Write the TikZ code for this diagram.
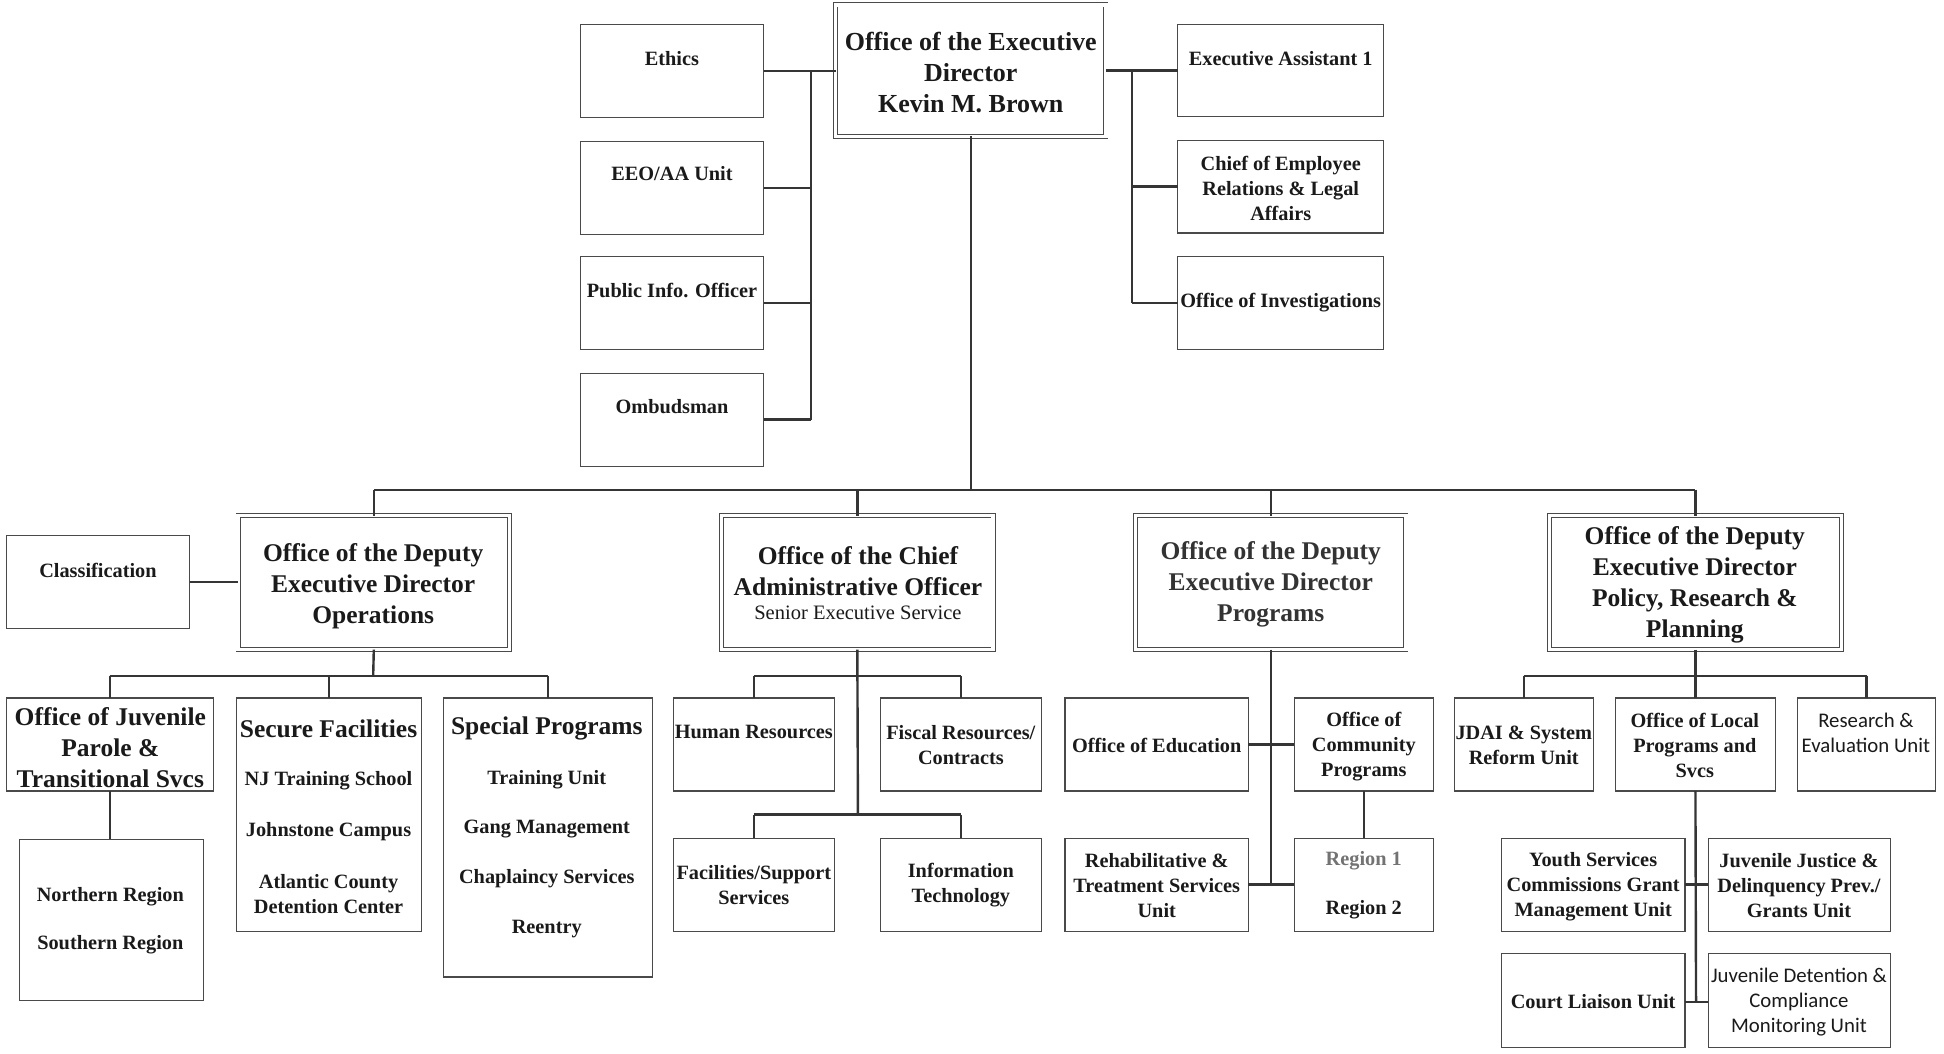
\documentclass[tikz,border=0pt]{standalone}
\usepackage{fontspec}
\setmainfont{Liberation Serif}
\newfontfamily\calfont{Carlito}
\usetikzlibrary{fit}
\definecolor{ln}{HTML}{353535}
\definecolor{bx}{HTML}{4A4A4A}
\definecolor{tx}{HTML}{1A1A1A}
\tikzset{
  box/.style={draw=bx, line width=1.2pt, inner sep=0pt, outer sep=0pt},
  dbox/.style={draw=bx, double=white, line width=0.9pt, double distance=3.2pt, inner sep=0pt, outer sep=0pt},
  conn/.style={draw=ln, line width=2.4pt},
  hugetxt/.style={text=tx, align=center, font=\fontsize{26}{31}\selectfont\bfseries},
  bigtxt/.style={text=tx, align=center, font=\fontsize{25.5}{31}\selectfont\bfseries},
  smtxt/.style={text=tx, align=center, font=\fontsize{20.3}{24.8}\selectfont\bfseries},
  subtxt/.style={text=tx, align=center, font=\fontsize{20.5}{24}\selectfont},
  caltxt/.style={text=tx, align=center, font=\calfont\fontsize{20.8}{24.8}\selectfont},
}
\begin{document}
\begin{tikzpicture}[x=1.2398pt, y=-1.2398pt]
\useasboundingbox[fill=white] (0,0) rectangle (1568,850);

% ---------- boxes ----------
\node[dbox, fit={(674,4) (892,110)}] (exec) {};
\node[box, fit={(468,20) (616,95)}] (ethics) {};
\node[box, fit={(468,114) (616,189)}] (eeo) {};
\node[box, fit={(468,207) (616,282)}] (pio) {};
\node[box, fit={(468,301) (616,376)}] (omb) {};
\node[box, fit={(950,20) (1116,94)}] (ea) {};
\node[box, fit={(950,113) (1116,188)}] (chief) {};
\node[box, fit={(950,207) (1116,282)}] (inv) {};

\node[dbox, fit={(192,416) (411,524)}] (ops) {};
\node[dbox, fit={(582,416) (801,524)}] (cao) {};
\node[dbox, fit={(916,416) (1134,524)}] (prog) {};
\node[dbox, fit={(1250,416) (1485,524)}] (pol) {};
\node[box, fit={(5,432) (153,507)}] (class) {};

\node[box, fit={(5,563) (172,638)}] (jp) {};
\node[box, fit={(191,563) (340,751)}] (sf) {};
\node[box, fit={(358,563) (526,788)}] (sp) {};
\node[box, fit={(16,677) (164,807)}] (nsr) {};

\node[box, fit={(543,563) (673,638)}] (hr) {};
\node[box, fit={(710,563) (840,638)}] (fis) {};
\node[box, fit={(543,676) (673,751)}] (fac) {};
\node[box, fit={(710,676) (840,751)}] (it) {};

\node[box, fit={(859,563) (1007,638)}] (edu) {};
\node[box, fit={(1044,563) (1156,638)}] (comm) {};
\node[box, fit={(859,676) (1007,751)}] (rehab) {};
\node[box, fit={(1044,676) (1156,751)}] (reg) {};

\node[box, fit={(1173,563) (1285,638)}] (jdai) {};
\node[box, fit={(1303,563) (1432,638)}] (loc) {};
\node[box, fit={(1450,563) (1561,638)}] (res) {};
\node[box, fit={(1211,676) (1359,751)}] (ysc) {};
\node[box, fit={(1378,676) (1525,751)}] (jj) {};
\node[box, fit={(1211,769) (1359,845)}] (cl) {};
\node[box, fit={(1378,769) (1525,845)}] (jd) {};

% ---------- texts ----------
\node[hugetxt] (t-exec) at (783,58.5) {Office of the Executive\\Director\\Kevin M. Brown};
\node[smtxt] (t-ethics) at (542,47) {Ethics};
\node[smtxt] (t-eeo) at (542,140) {EEO/AA Unit};
\node[smtxt] (t-pio) at (542,234) {Public Info. Officer};
\node[smtxt] (t-omb) at (542,328) {Ombudsman};
\node[smtxt] (t-ea) at (1033,47) {Executive Assistant 1};
\node[smtxt] (t-chief) at (1033,152) {Chief of Employee\\Relations \& Legal\\Affairs};
\node[smtxt] (t-inv) at (1033,244) {Office of Investigations};

\node[smtxt] (t-class) at (79,460) {Classification};
\node[bigtxt] (t-ops) at (301,472.5) {Office of the Deputy\\Executive Director\\Operations};
\node[bigtxt] (t-cao) at (692,460.5) {Office of the Chief\\Administrative Officer};
\node[subtxt] (t-cao2) at (692,494) {Senior Executive Service};
\node[bigtxt, text=black!80] (t-prog) at (1025,471.5) {Office of the Deputy\\Executive Director\\Programs};
\node[bigtxt] (t-pol) at (1367,472) {Office of the Deputy\\Executive Director\\Policy, Research \&\\Planning};

\node[bigtxt] (t-jp) at (89,603) {Office of Juvenile\\Parole \&\\Transitional Svcs};
\node[bigtxt] (t-sf) at (265,587.5) {Secure Facilities};
\node[smtxt] (t-sf1) at (265,630) {NJ Training School};
\node[smtxt] (t-sf2) at (265,671) {Johnstone Campus};
\node[smtxt] (t-sf3) at (265,721) {Atlantic County\\Detention Center};
\node[bigtxt] (t-sp) at (441,587.5) {Special Programs};
\node[smtxt] (t-sp1) at (441,629) {Training Unit};
\node[smtxt] (t-sp2) at (441,669) {Gang Management};
\node[smtxt] (t-sp3) at (441,709) {Chaplaincy Services};
\node[smtxt] (t-sp4) at (441,749) {Reentry};
\node[smtxt] (t-nr) at (89,723) {Northern Region};
\node[smtxt] (t-sr) at (89,762) {Southern Region};

\node[smtxt] (t-hr) at (608,590.5) {Human Resources};
\node[smtxt] (t-fis) at (775,601) {Fiscal Resources/\\Contracts};
\node[smtxt] (t-fac) at (608,714) {Facilities/Support\\Services};
\node[smtxt] (t-it) at (775,714) {Information\\Technology};

\node[smtxt] (t-edu) at (933,601) {Office of Education};
\node[smtxt] (t-comm) at (1100,602) {Office of\\Community\\Programs};
\node[smtxt] (t-rehab) at (933,714.5) {Rehabilitative \&\\Treatment Services\\Unit};
\node[smtxt, text=black!55] (t-reg1) at (1100,694) {Region 1};
\node[smtxt] (t-reg2) at (1100,734) {Region 2};

\node[smtxt] (t-jdai) at (1229,601) {JDAI \& System\\Reform Unit};
\node[smtxt] (t-loc) at (1367,601.5) {Office of Local\\Programs and\\Svcs};
\node[caltxt] (t-res) at (1505,591) {Research \&\\Evaluation Unit};
\node[smtxt] (t-ysc) at (1285,715) {Youth Services\\Commissions Grant\\Management Unit};
\node[smtxt] (t-jj) at (1451,714.5) {Juvenile Justice \&\\Delinquency Prev./\\Grants Unit};
\node[smtxt] (t-cl) at (1285,807.5) {Court Liaison Unit};
\node[caltxt] (t-jd) at (1451,808) {Juvenile Detention \&\\Compliance\\Monitoring Unit};

% ---------- connectors ----------
\coordinate (lbus) at (654,57);
\coordinate (rbus) at (913,57);
\coordinate (hbus) at (783,395);
\coordinate (obus) at (301,545);
\coordinate (cbus2) at (692,657);
\coordinate (pend) at (1025,713);
\coordinate (lend) at (1368,808);

\draw[conn] (ethics.east) -- (ethics.east -| exec.west);
\draw[conn] (lbus) -- (lbus |- omb.east);
\draw[conn] (eeo.east) -- (eeo.east -| lbus);
\draw[conn] (pio.east) -- (pio.east -| lbus);
\draw[conn] (omb.east) -- (omb.east -| lbus);

\draw[conn] (exec.east |- ea.west) -- (ea.west);
\draw[conn] (rbus) -- (rbus |- inv.west);
\draw[conn] (chief.west -| rbus) -- (chief.west);
\draw[conn] (inv.west -| rbus) -- (inv.west);

\draw[conn] (exec.south) -- (hbus);
\draw[conn] (ops.north |- hbus) -- (pol.north |- hbus);
\draw[conn] (ops.north |- hbus) -- (ops.north);
\draw[conn] (cao.north |- hbus) -- (cao.north);
\draw[conn] (prog.north |- hbus) -- (prog.north);
\draw[conn] (pol.north |- hbus) -- (pol.north);

\draw[conn] (class.east) -- (class.east -| ops.west);

\draw[conn] (ops.south) -- (obus);
\draw[conn] (jp.north |- obus) -- (sp.north |- obus);
\draw[conn] (jp.north |- obus) -- (jp.north);
\draw[conn] (sf.north |- obus) -- (sf.north);
\draw[conn] (sp.north |- obus) -- (sp.north);
\draw[conn] (jp.south) -- (jp.south |- nsr.north);

\draw[conn] (cao.south) -- (cbus2);
\draw[conn] (hr.north |- obus) -- (fis.north |- obus);
\draw[conn] (hr.north |- obus) -- (hr.north);
\draw[conn] (fis.north |- obus) -- (fis.north);
\draw[conn] (fac.north |- cbus2) -- (it.north |- cbus2);
\draw[conn] (fac.north |- cbus2) -- (fac.north);
\draw[conn] (it.north |- cbus2) -- (it.north);

\draw[conn] (prog.south) -- (pend);
\draw[conn] (edu.east) -- (edu.east -| comm.west);
\draw[conn] (rehab.east) -- (rehab.east -| reg.west);
\draw[conn] (comm.south) -- (comm.south |- reg.north);

\draw[conn] (pol.south) -- (pol.south |- obus);
\draw[conn] (jdai.north |- obus) -- (res.north |- obus);
\draw[conn] (jdai.north |- obus) -- (jdai.north);
\draw[conn] (loc.north |- obus) -- (loc.north);
\draw[conn] (res.north |- obus) -- (res.north);
\draw[conn] (loc.south) -- (lend);
\draw[conn] (ysc.east) -- (ysc.east -| jj.west);
\draw[conn] (cl.east |- lend) -- (jd.west |- lend);
\end{tikzpicture}
\end{document}
